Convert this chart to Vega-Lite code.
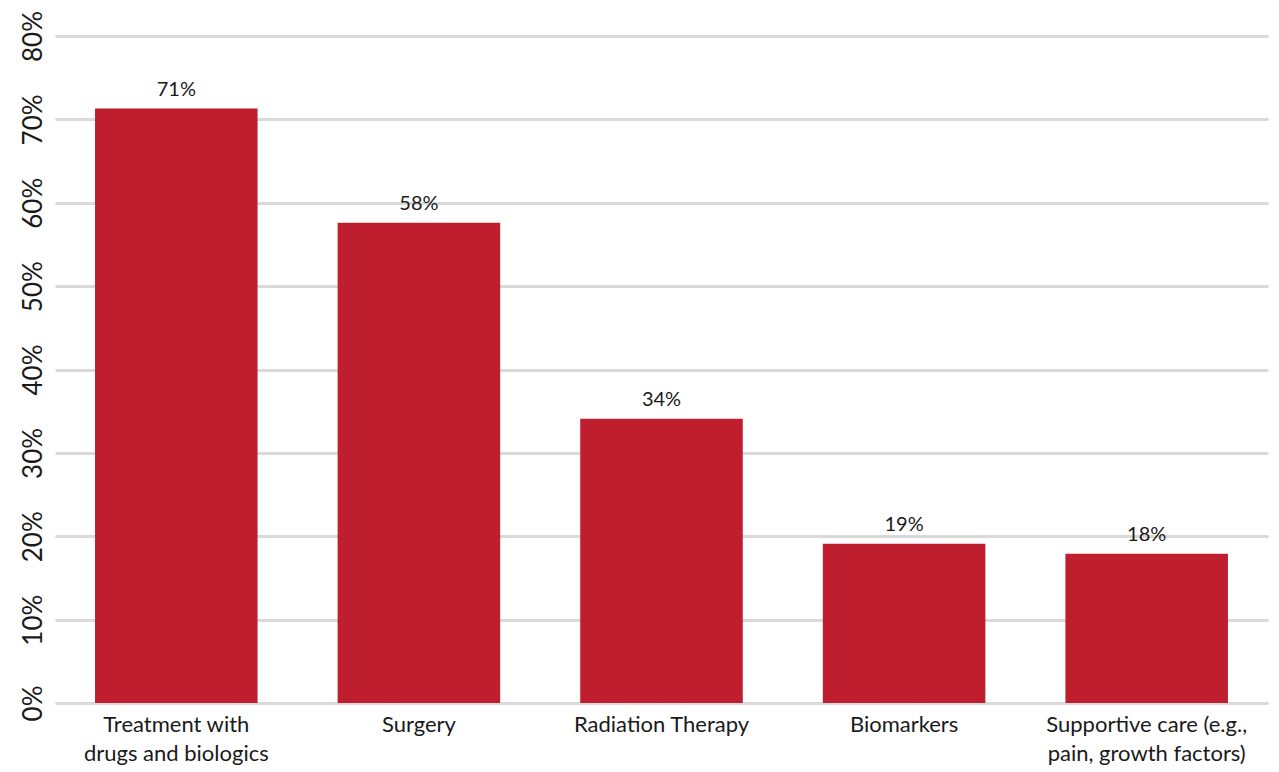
{
  "$schema": "https://vega.github.io/schema/vega-lite/v6.json",
  "autosize": "none",
  "width": 1213,
  "height": 667,
  "padding": {"left": 55, "top": 36, "right": 11, "bottom": 69},
  "background": "white",
  "config": {"view": {"stroke": null}, "font": "Lato"},
  "data": {"values": [
    {"category": "Treatment with|drugs and biologics", "value": 0.713, "order": 1},
    {"category": "Surgery", "value": 0.576, "order": 2},
    {"category": "Radiation Therapy", "value": 0.341, "order": 3},
    {"category": "Biomarkers", "value": 0.191, "order": 4},
    {"category": "Supportive care (e.g.,|pain, growth factors)", "value": 0.179, "order": 5}
  ]},
  "encoding": {
    "x": {"field": "category", "type": "nominal", "sort": {"field": "order"},
      "scale": {"paddingInner": 0.33, "paddingOuter": 0.165},
      "axis": {"title": null, "labelAngle": 0, "domain": false, "ticks": false, "labelFontSize": 22, "labelColor": "#1a1a1a", "labelPadding": 11, "labelLineHeight": 29, "labelLimit": 0, "labelExpr": "split(datum.label, '|')", "labelBaseline": "top"}},
    "y": {"field": "value", "type": "quantitative",
      "scale": {"domain": [0, 0.8]},
      "axis": {"title": null, "format": ".0%", "tickCount": 8, "domain": false, "ticks": false, "gridColor": "#d9d9d9", "gridWidth": 3, "labelFontSize": 26, "labelColor": "#1a1a1a", "labelAngle": 270, "labelPadding": 9, "labelAlign": "center", "labelBaseline": "bottom"}}
  },
  "layer": [
    {"mark": {"type": "bar", "color": "#BE1E2D"}},
    {"mark": {"type": "text", "baseline": "bottom", "dy": -9, "fontSize": 20, "color": "#1a1a1a"},
      "encoding": {"text": {"field": "value", "type": "quantitative", "format": ".0%"}}}
  ]
}
